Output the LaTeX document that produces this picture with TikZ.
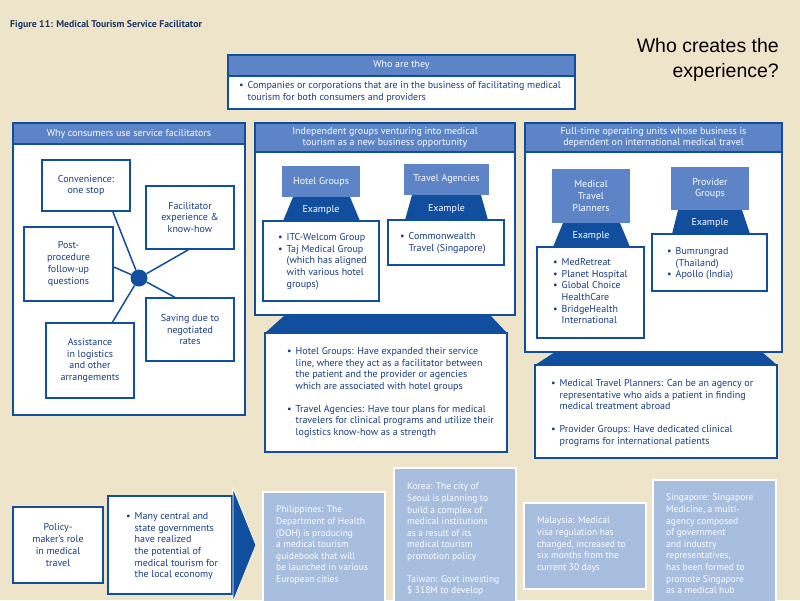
\documentclass[tikz,border=0pt]{standalone}
\usepackage{fontspec}
\setmainfont{PT Sans}
\newfontfamily\arialf{Liberation Sans}
\usetikzlibrary{calc}
\definecolor{bg}{RGB}{238,228,201}
\definecolor{dblue}{RGB}{18,78,158}
\definecolor{hblue}{RGB}{92,132,198}
\definecolor{lblue}{RGB}{168,190,222}
\definecolor{tblue}{RGB}{24,60,128}
\definecolor{titleblue}{RGB}{30,55,100}
\newcommand{\mybul}{\textbullet}
\begin{document}
\begin{tikzpicture}[x=1pt,y=-1pt,
  every node/.style={font=\fontsize{10}{11.7}\selectfont, text=tblue, inner sep=0pt},
  panel/.style={draw=dblue, line width=1.8pt, fill=white},
  hdr/.style={fill=hblue, draw=dblue, line width=1.2pt, text=white, align=center},
  wbox/.style={draw=dblue, line width=1.6pt, fill=white, align=center},
  cat/.style={fill=hblue, text=white, align=center},
  trap/.style={fill=dblue},
  exl/.style={text=white},
  lbox/.style={fill=lblue, draw=white, line width=1.5pt},
  ltxt/.style={text=white, align=left, anchor=north west, font=\fontsize{9.5}{11.6}\selectfont},
  btxt/.style={align=left, anchor=north west},
  spoke/.style={draw=dblue, line width=1.5pt}
]
\useasboundingbox (0,0) rectangle (800,600);
\fill[bg] (0,0) rectangle (800,600);
\begin{scope}
\clip (0,0) rectangle (800,600);

% title
\node[font=\bfseries\fontsize{9.8}{11}\selectfont, text=titleblue, anchor=west] (title) at (10,25) {Figure 11: Medical Tourism Service Facilitator};
\node[font=\arialf\fontsize{19.5}{25}\selectfont, text=black, align=right, anchor=north east] (q) at (779,38) {Who creates the\\experience?};

% who are they
\node[panel, minimum width=347, minimum height=54] (who) at (401.5,82) {};
\node[hdr, minimum width=347, minimum height=21] (whoh) at (401.5,65.5) {Who are they};
\node[btxt] (whot) at (239,80) {\begin{tabular}{@{}l@{\hspace{4pt}}l@{}}\mybul & Companies or corporations that are in the business of facilitating medical\\ & tourism for both consumers and providers\end{tabular}};

% left panel
\node[panel, minimum width=232, minimum height=292] (left) at (129,269) {};
\node[hdr, minimum width=232, minimum height=21] (lefth) at (129,133.5) {Why consumers use service facilitators};
\node[wbox, minimum width=88, minimum height=51] (conv) at (86,185.5) {Convenience:\\one stop};
\node[wbox, minimum width=88, minimum height=63] (fac) at (190,217.5) {Facilitator\\experience \&\\know-how};
\node[wbox, minimum width=89, minimum height=74] (post) at (68.5,264) {Post-\\procedure\\follow-up\\questions};
\node[wbox, minimum width=88, minimum height=63] (sav) at (190,329.5) {Saving due to\\negotiated\\rates};
\node[wbox, minimum width=88, minimum height=75] (assist) at (90,360.5) {Assistance\\in logistics\\and other\\arrangements};
\node[circle, fill=dblue, minimum size=17pt] (hub) at (139,278) {};
\draw[spoke] (hub) -- ($(conv.south west)!0.8!(conv.south east)$);
\draw[spoke] (hub) -- ($(fac.south west)!0.48!(fac.south east)$);
\draw[spoke] (hub) -- ($(post.north east)!0.54!(post.south east)$);
\draw[spoke] (hub) -- ($(sav.north west)!0.33!(sav.north east)$);
\draw[spoke] (hub) -- ($(assist.north west)!0.75!(assist.north east)$);

% middle panel
\node[panel, minimum width=260, minimum height=192] (mid) at (385,219) {};
\node[hdr, minimum width=260, minimum height=29] (midh) at (385,137.5) {Independent groups venturing into medical\\tourism as a new business opportunity};
\node[cat, minimum width=78, minimum height=31] (hotel) at (321,181.5) {Hotel Groups};
\fill[trap] (293,197) -- (350,197) -- (360,221) -- (283,221) -- cycle;
\node[exl] (ex1) at (321,210) {Example};
\node[wbox, minimum width=116, minimum height=80] (hotelb) at (321,261) {};
\node[btxt] (hotelt) at (278,232) {\begin{tabular}{@{}l@{\hspace{4pt}}l@{}}\mybul & ITC-Welcom Group\\ \mybul & Taj Medical Group\\ & (which has aligned\\ & with various hotel\\ & groups)\end{tabular}};
\node[cat, minimum width=85, minimum height=31] (travel) at (446.5,179.5) {Travel Agencies};
\fill[trap] (412,195) -- (481,195) -- (488,220) -- (405,220) -- cycle;
\node[exl] (ex2) at (446.5,208.5) {Example};
\node[wbox, minimum width=116, minimum height=45] (travelb) at (446,242.5) {};
\node[btxt] (travelt) at (400,231) {\begin{tabular}{@{}l@{\hspace{4pt}}l@{}}\mybul & Commonwealth\\ & Travel (Singapore)\end{tabular}};

\fill[trap] (285,315) -- (490,315) -- (507,333) -- (265,333) -- cycle;
\node[draw=dblue, line width=1.2pt, fill=white, minimum width=242, minimum height=119] (midl) at (386,392.5) {};
\node[btxt] (midlt) at (287,346) {\begin{tabular}{@{}l@{\hspace{4pt}}l@{}}\mybul & Hotel Groups: Have expanded their service\\ & line, where they act as a facilitator between\\ & the patient and the provider or agencies\\ & which are associated with hotel groups\\[11pt] \mybul & Travel Agencies: Have tour plans for medical\\ & travelers for clinical programs and utilize their\\ & logistics know-how as a strength\end{tabular}};

% right panel
\node[panel, minimum width=257, minimum height=229] (right) at (653.5,237.5) {};
\node[hdr, minimum width=257, minimum height=29] (righth) at (653.5,137.5) {Full-time operating units whose business is\\dependent on international medical travel};
\node[cat, minimum width=78, minimum height=54] (mtp) at (591,196) {Medical\\Travel\\Planners};
\fill[trap] (563,223) -- (620,223) -- (630,247) -- (553,247) -- cycle;
\node[exl] (ex3) at (591,236) {Example};
\node[wbox, minimum width=107, minimum height=91] (mtpb) at (590.5,292.5) {};
\node[btxt] (mtpt) at (553,257) {\begin{tabular}{@{}l@{\hspace{4pt}}l@{}}\mybul & MedRetreat\\ \mybul & Planet Hospital\\ \mybul & Global Choice\\ & HealthCare\\ \mybul & BridgeHealth\\ & International\end{tabular}};
\node[cat, minimum width=78, minimum height=43] (pg) at (710,188.5) {Provider\\Groups};
\fill[trap] (678,210) -- (742,210) -- (750,234) -- (672,234) -- cycle;
\node[exl] (ex4) at (710,223) {Example};
\node[wbox, minimum width=115, minimum height=57] (pgb) at (709.5,262.5) {};
\node[btxt] (pgt) at (667,246) {\begin{tabular}{@{}l@{\hspace{4pt}}l@{}}\mybul & Bumrungrad\\ & (Thailand)\\ \mybul & Apollo (India)\end{tabular}};

\fill[trap] (555,352) -- (762,352) -- (777,365) -- (535,365) -- cycle;
\node[draw=dblue, line width=1.2pt, fill=white, minimum width=242, minimum height=93] (rightl) at (656,411.5) {};
\node[btxt] (rightlt) at (551,378) {\begin{tabular}{@{}l@{\hspace{4pt}}l@{}}\mybul & Medical Travel Planners: Can be an agency or\\ & representative who aids a patient in finding\\ & medical treatment abroad\\[11pt] \mybul & Provider Groups: Have dedicated clinical\\ & programs for international patients\end{tabular}};

% bottom row
\node[wbox, minimum width=90, minimum height=76] (policy) at (58,545) {Policy-\\maker’s role\\in medical\\travel};
\node[wbox, minimum width=124, minimum height=98] (many) at (170,545) {};
\node[btxt] (manyt) at (126,511) {\begin{tabular}{@{}l@{\hspace{4pt}}l@{}}\mybul & Many central and\\ & state governments\\ & have realized\\ & the potential of\\ & medical tourism for\\ & the local economy\end{tabular}};
\fill[dblue, draw=white, line width=0.8pt] (233,488) -- (256,545) -- (233,602) -- cycle;

\node[lbox, minimum width=122, minimum height=130, anchor=north west] (phil) at (262,491) {};
\node[ltxt] (philt) at (276,506) {Philippines: The\\Department of Health\\(DOH) is producing\\a medical tourism\\guidebook that will\\be launched in various\\European cities};
\node[lbox, minimum width=122, minimum height=150, anchor=north west] (korea) at (393,467) {};
\node[ltxt] (koreat) at (407,483) {Korea: The city of\\Seoul is planning to\\build a complex of\\medical institutions\\as a result of its\\medical tourism\\promotion policy\\[11pt]Taiwan: Govt investing\\\$ 318M to develop};
\node[lbox, minimum width=122, minimum height=86, anchor=north west] (malay) at (523,502) {};
\node[ltxt] (malayt) at (537,517) {Malaysia: Medical\\visa regulation has\\changed, increased to\\six months from the\\current 30 days};
\node[lbox, minimum width=123, minimum height=140, anchor=north west] (sing) at (652,479) {};
\node[ltxt] (singt) at (666,494) {Singapore: Singapore\\Medicine, a multi-\\agency composed\\of government\\and industry\\representatives,\\has been formed to\\promote Singapore\\as a medical hub};
\end{scope}
\end{tikzpicture}
\end{document}
